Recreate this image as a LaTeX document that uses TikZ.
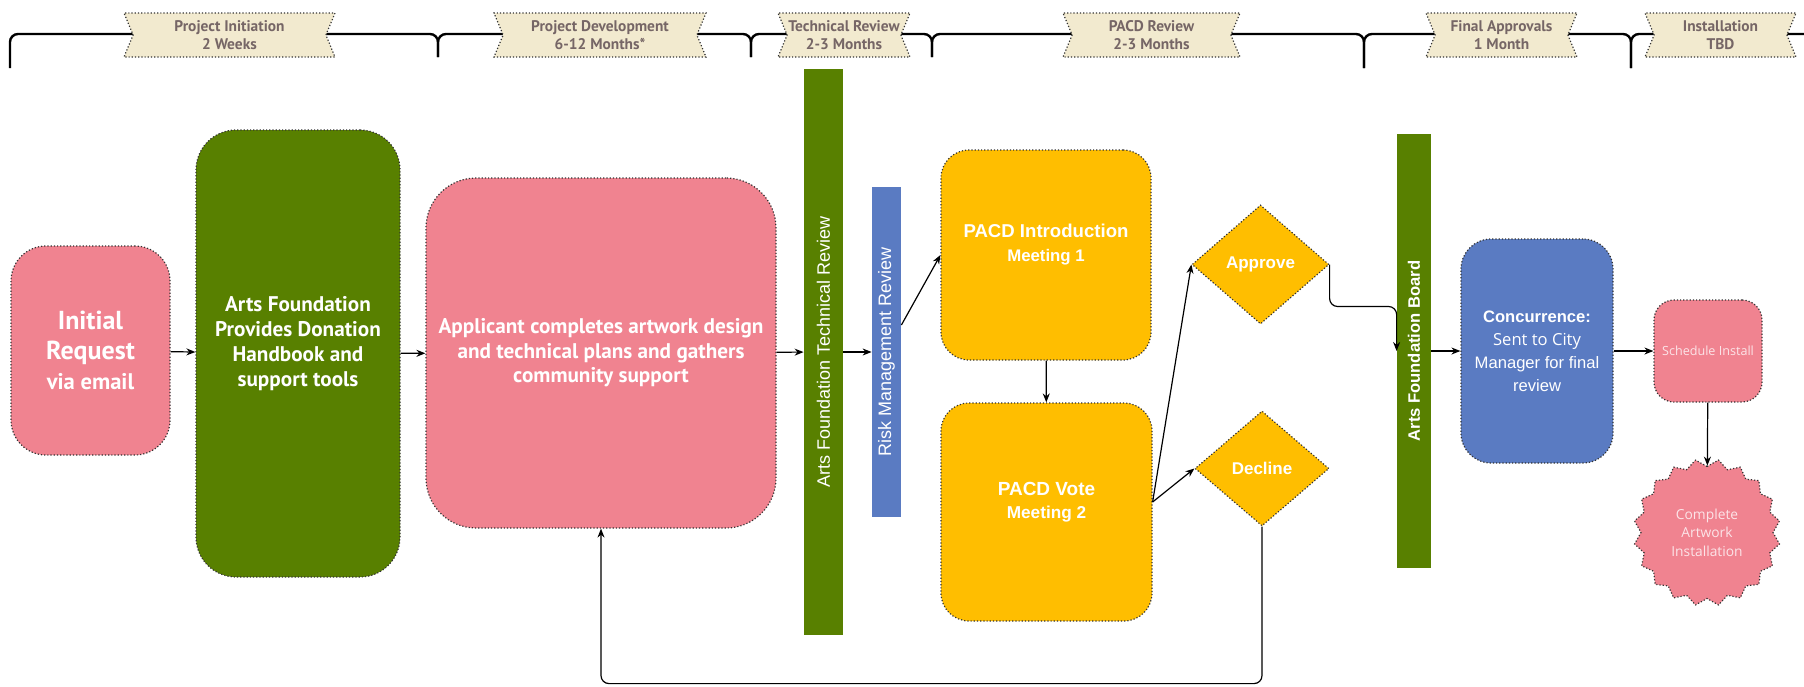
\documentclass[tikz,border=0pt]{standalone}
\usepackage{fontspec}
\setmainfont{Liberation Sans}
\newfontfamily\condfont{PT Sans}
\newfontfamily\canvafont{Open Sans}
\usetikzlibrary{arrows.meta,shapes.geometric,shapes.symbols}
\definecolor{rose}{HTML}{F08390}
\definecolor{leaf}{HTML}{588000}
\definecolor{steel}{HTML}{5A7BC2}
\definecolor{amber}{HTML}{FFBE00}
\definecolor{parchment}{HTML}{F2EACF}
\definecolor{umber}{HTML}{766666}
\definecolor{blush}{HTML}{FCE4E8}
\begin{document}
\begin{tikzpicture}[x=0.5pt,y=-0.5pt,>={Stealth[length=4.5pt,width=3.5pt]}]
\tikzstyle{every node}=[text=white,inner sep=0pt,align=center]
\tikzstyle{box}=[draw=black!80,densely dotted,line width=0.6pt]
\tikzstyle{bar}=[rectangle,rotate=90]
\tikzstyle{banner}=[signal,signal from=west and east,signal to=nowhere,
signal pointer angle=135,draw=black!80,densely dotted,line width=0.6pt,
fill=parchment,text=umber,minimum height=22pt,
font=\condfont\bfseries\fontsize{7.7}{9}\selectfont]
\tikzstyle{brace}=[line width=1.2pt,rounded corners=4pt]
\tikzstyle{link}=[->,line width=0.6pt]

\useasboundingbox (0,0) rectangle (1804,686);

% timeline
\foreach \xa/\ya/\xb/\yb in {10/68/438/57, 438/57/751/57, 751/57/932/57,
  932/57/1364/68, 1364/68/1631/68}
  \draw [brace] (\xa,\ya) -- (\xa,34) -- (\xb,34) -- (\xb,\yb);
\draw [brace] (1631,68) -- (1631,34) -- (1804,34);

\draw (229.5,35) node (initiation) [banner,minimum width=105.5pt] {Project Initiation\\2 Weeks};
\draw (600,35) node (development) [banner,minimum width=106pt] {Project Development\\6-12 Months*};
\draw (844,35) node (techphase) [banner,minimum width=66pt] {Technical Review\\2-3 Months};
\draw (1151.5,35) node (pacdphase) [banner,minimum width=88.5pt] {PACD Review\\2-3 Months};
\draw (1501.5,35) node (finalphase) [banner,minimum width=75.5pt] {Final Approvals\\1 Month};
\draw (1720.5,35) node (installphase) [banner,minimum width=75.5pt] {Installation\\TBD};

% steps
\draw (90.5,350.5) node (request) [box,fill=rose,rounded corners=17.5pt,
  minimum width=79.5pt,minimum height=104.5pt,font=\condfont\bfseries\fontsize{13}{15}\selectfont]
  {Initial\\Request\\{\fontsize{11.3}{15}\selectfont via email}};
\draw (298,353.5) node (handbook) [box,fill=leaf,rounded corners=20pt,
  minimum width=102pt,minimum height=223.5pt,font=\condfont\bfseries\fontsize{10.6}{12.5}\selectfont]
  {Arts Foundation\\Provides Donation\\Handbook and\\support tools\\\mbox{}};
\draw (601,353) node (applicant) [box,fill=rose,rounded corners=25pt,
  minimum width=175pt,minimum height=175pt,font=\condfont\bfseries\fontsize{10.6}{12.3}\selectfont]
  {Applicant completes artwork design\\and technical plans and gathers\\community support};
\draw (823.5,352) node (techbar) [bar,fill=leaf,minimum width=283pt,minimum height=19.5pt,
  font=\fontsize{9}{11}\selectfont] {Arts Foundation Technical Review};
\draw (886.5,352) node (riskbar) [bar,fill=steel,minimum width=165pt,minimum height=14.5pt,
  font=\fontsize{9}{11}\selectfont] {Risk Management Review};
\draw (1046,255) node (intro) [box,fill=amber,rounded corners=14pt,
  minimum width=105pt,minimum height=105pt,font=\bfseries\fontsize{8.4}{12}\selectfont]
  {{\fontsize{9.3}{12}\selectfont PACD Introduction}\\Meeting 1\\\mbox{}};
\draw (1046.5,512) node (vote) [box,fill=amber,rounded corners=14pt,
  minimum width=105.5pt,minimum height=109pt,font=\bfseries\fontsize{8.6}{11.5}\selectfont]
  {{\fontsize{9.5}{11.5}\selectfont PACD Vote}\\Meeting 2\\\mbox{}};
\draw (1260.5,264.5) node (approve) [box,diamond,fill=amber,minimum width=68.5pt,
  minimum height=59.5pt,font=\bfseries\fontsize{8.5}{10}\selectfont] {Approve};
\draw (1262,468.5) node (decline) [box,diamond,fill=amber,minimum width=67pt,
  minimum height=57.5pt,font=\bfseries\fontsize{8.5}{10}\selectfont] {Decline};
\draw (1414,351) node (board) [bar,fill=leaf,minimum width=217pt,minimum height=17pt,
  font=\bfseries\fontsize{8.3}{10}\selectfont] {Arts Foundation Board};
\draw (1537,351) node (concur) [box,fill=steel,rounded corners=15pt,
  minimum width=76pt,minimum height=112pt,font=\fontsize{8.3}{11.5}\selectfont]
  {{\bfseries Concurrence:}\\\canvafont Sent to City\\Manager for final\\review};
\draw (1708,351) node (schedule) [box,fill=rose,rounded corners=10pt,
  minimum width=54pt,minimum height=51pt,text=blush,font=\canvafont\fontsize{6.3}{8}\selectfont]
  {Schedule Install};
\draw (1707,532.5) node (complete) [box,star,star points=20,star point ratio=0.9,
  fill=rose,minimum size=66pt,text=blush,font=\canvafont\fontsize{6.9}{9.2}\selectfont]
  {Complete\\Artwork\\Installation};

% arrows
\draw [link] (request) -- (handbook);
\draw [link] (handbook) -- (applicant);
\draw [link] (applicant) -- (techbar);
\draw [link] (techbar) -- (riskbar);
\draw [link] ([yshift=13.5pt]riskbar.south) -- (intro.west);
\draw [link] (intro) -- (vote);
\draw [link] ([yshift=5pt]vote.east) -- (approve.west);
\draw [link] ([yshift=5pt]vote.east) -- (decline.west);
\draw [link,rounded corners=4pt] (approve.east) -- ++(0,42) -| (board.north);
\draw [link] (board) -- (concur);
\draw [link] (concur) -- (schedule);
\draw [link] (schedule) -- (complete);
\draw [link,rounded corners=4pt] (decline.south) -- ++(0,157) -| (applicant.south);
\end{tikzpicture}
\end{document}
